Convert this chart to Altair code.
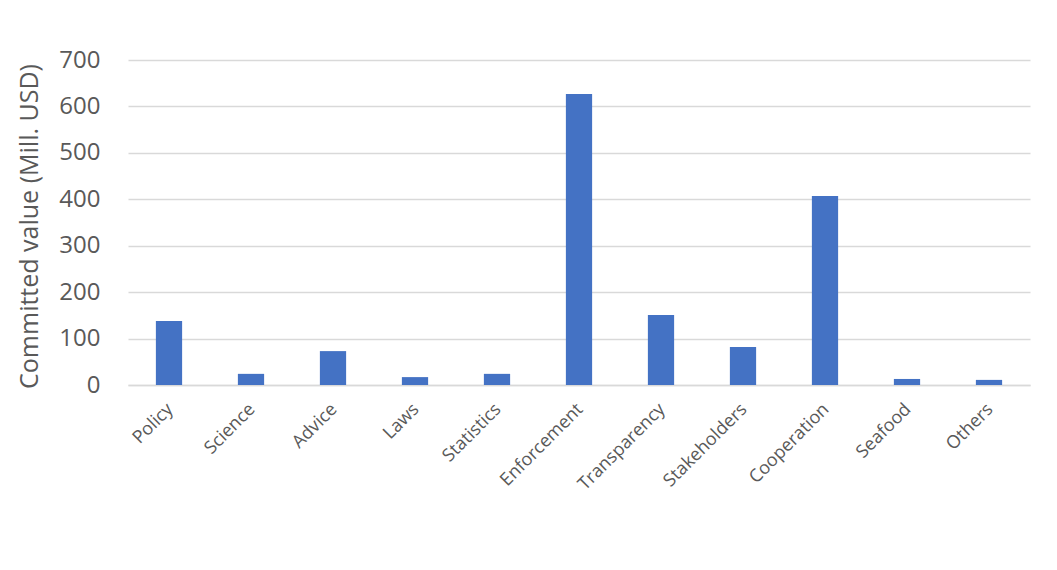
import altair as alt
import pandas as pd

categories = ["Policy", "Science", "Advice", "Laws", "Statistics", "Enforcement",
              "Transparency", "Stakeholders", "Cooperation", "Seafood", "Others"]
values = [138, 24, 73, 17, 24, 627, 151, 82, 407, 13, 11]

df = pd.DataFrame({"category": categories, "value": values})

FONT = "Open Sans"
TXT = "#595959"

chart = alt.Chart(df).mark_bar(color="#4472c4").encode(
    x=alt.X("category:N", sort=categories,
            scale=alt.Scale(paddingInner=0.68, paddingOuter=0.34),
            axis=alt.Axis(title=None, labelAngle=-45, labelAlign="right",
                          labelBaseline="top", labelFontSize=18, labelColor=TXT,
                          labelFont=FONT, labelPadding=15, labelOffset=-5, ticks=False,
                          domainColor="#d9d9d9", domainWidth=1.5)),
    y=alt.Y("value:Q", scale=alt.Scale(domain=[0, 700], nice=False),
            axis=alt.Axis(title="Committed value (Mill. USD)", values=list(range(0, 701, 100)),
                          labelFontSize=24, labelColor=TXT, labelFont=FONT,
                          labelPadding=28, ticks=False, domain=False,
                          gridColor="#d9d9d9", gridWidth=1.5,
                          titleFontSize=25, titleFont=FONT, titleColor=TXT,
                          titleFontWeight="normal", titleX=-99, titleY=166,
                          titleAngle=-90, titleAlign="center", titleBaseline="middle")),
).properties(
    width=902, height=325,
    background="white",
    autosize=alt.AutoSizeParams(type="none"),
    padding={"left": 120, "top": 52, "right": 19, "bottom": 177},
).configure_view(stroke=None, strokeWidth=0)

chart.save("out.html", embed_options={"renderer": "svg", "actions": False})
